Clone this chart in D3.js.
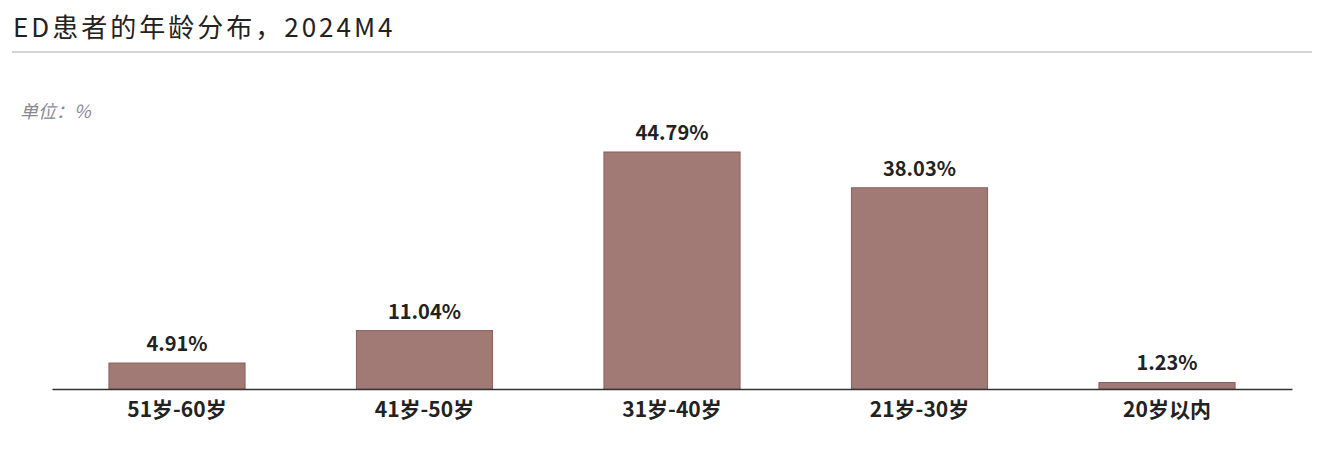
<!DOCTYPE html>
<html>
<head>
<meta charset="utf-8">
<script src="https://cdn.jsdelivr.net/npm/d3@7"></script>
<style>
  body { margin: 0; background: #fff; }
  svg { display: block; font-family: "Noto Sans CJK SC", "Noto Sans", sans-serif; }
</style>
</head>
<body>
<svg id="chart" width="1320" height="452"></svg>
<script>
// chart data
const categories = ["51岁-60岁", "41岁-50岁", "31岁-40岁", "21岁-30岁", "20岁以内"];
const shares = [4.91, 11.04, 44.79, 38.03, 1.23];
const valueLabels = ["4.91%", "11.04%", "44.79%", "38.03%", "1.23%"];

const svg = d3.select("#chart");
const width = 1320, height = 452;
const margin = {left: 52, right: 28, top: 152, bottom: 63};
const baseY = height - margin.bottom;

// title + divider
svg.append("text")
  .attr("x", 13).attr("y", 37)
  .attr("font-size", 26)
  .attr("letter-spacing", 3)
  .attr("fill", "#222")
  .text("ED患者的年龄分布，2024M4");

svg.append("line")
  .attr("x1", 12).attr("x2", 1312)
  .attr("y1", 52).attr("y2", 52)
  .attr("stroke", "#c4c6cc").attr("stroke-width", 1.5);

svg.append("text")
  .attr("x", 20).attr("y", 118)
  .attr("font-size", 18)
  .attr("font-style", "italic")
  .attr("fill", "#8a8794")
  .text("单位：%");

const x = d3.scaleBand()
  .domain(categories)
  .range([margin.left, width - margin.right])
  .paddingInner(0.45)
  .paddingOuter(0.23);

const y = d3.scaleLinear()
  .domain([0, 44.79])
  .range([baseY, margin.top]);

const data = categories.map((c, i) => ({cat: c, v: shares[i], label: valueLabels[i]}));

svg.selectAll("rect.bar")
  .data(data)
  .enter()
  .append("rect")
    .attr("class", "bar")
    .attr("x", d => x(d.cat))
    .attr("y", d => y(d.v))
    .attr("width", x.bandwidth())
    .attr("height", d => baseY - y(d.v))
    .attr("fill", "#a27a75")
    .attr("stroke", "#8a5f5a")
    .attr("stroke-width", 1);

svg.selectAll("text.val")
  .data(data)
  .enter()
  .append("text")
    .attr("class", "val")
    .attr("x", d => x(d.cat) + x.bandwidth() / 2)
    .attr("y", d => y(d.v) - 12)
    .attr("text-anchor", "middle")
    .attr("font-size", 20)
    .attr("font-weight", "bold")
    .attr("fill", "#222")
    .text(d => d.label);

// x axis
const axis = svg.append("g")
  .attr("transform", "translate(0," + baseY + ")")
  .call(d3.axisBottom(x).tickSize(0).tickPadding(13));

axis.select(".domain")
  .attr("stroke", "#333")
  .attr("stroke-width", 1.5);

axis.selectAll("text")
  .attr("font-size", 21)
  .attr("font-weight", "bold")
  .attr("fill", "#222")
  .attr("font-family", "\"Noto Sans CJK SC\", sans-serif");
</script>
</body>
</html>
